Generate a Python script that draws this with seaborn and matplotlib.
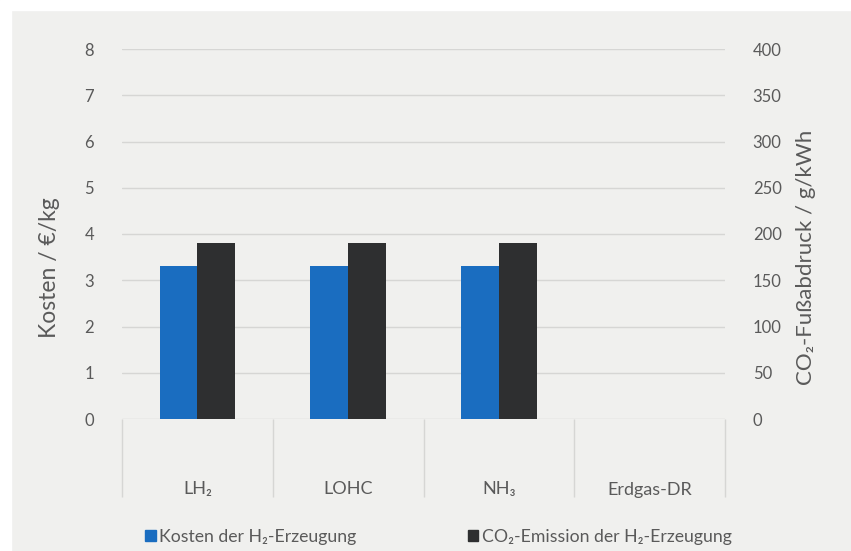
import numpy as np
import pandas as pd
import matplotlib
matplotlib.use("Agg")
import matplotlib.pyplot as plt
import seaborn as sns
from matplotlib.ticker import FixedLocator
from matplotlib.patches import Rectangle

categories = ["LH₂", "LOHC", "NH₃", "Erdgas-DR"]
kosten = [3.3, 3.3, 3.3, np.nan]          # €/kg
co2 = [190, 190, 190, np.nan]             # g/kWh
series = ["Kosten der H₂-Erzeugung", "CO₂-Emission der H₂-Erzeugung"]
left_ticks = [0, 1, 2, 3, 4, 5, 6, 7, 8]
right_ticks = [0, 50, 100, 150, 200, 250, 300, 350, 400]

sns.set_theme(style="white")
plt.rcParams["font.family"] = ["Lato", "DejaVu Sans"]

BG = "#f0f0ee"
TXT = "#5a5a5a"
GRID = "#d6d6d4"
colors = {series[0]: "#1a6dc0", series[1]: "#2e2f30"}

df_k = pd.DataFrame({"cat": categories, "value": kosten, "series": series[0]})
df_c = pd.DataFrame({"cat": categories, "value": co2, "series": series[1]})

W, H = 851, 551
fig = plt.figure(figsize=(8.51, 5.51), dpi=100, facecolor=BG)
# white margins at top and left of the picture
fig.add_artist(Rectangle((0, 1 - 10/H), 1, 10/H, transform=fig.transFigure,
                         color="white", zorder=-1))
fig.add_artist(Rectangle((0, 0), 11/W, 1, transform=fig.transFigure,
                         color="white", zorder=-1))

ax = fig.add_axes([122/W, 1-419/H, (725-122)/W, (419-49)/H])
ax.set_facecolor(BG)
ax2 = ax.twinx()

sns.barplot(data=df_k, x="cat", y="value", hue="series", order=categories,
            hue_order=series, palette=colors, width=0.5, dodge=True,
            saturation=1, ax=ax, errorbar=None, linewidth=0, legend=False)
sns.barplot(data=df_c, x="cat", y="value", hue="series", order=categories,
            hue_order=series, palette=colors, width=0.5, dodge=True,
            saturation=1, ax=ax2, errorbar=None, linewidth=0, legend=False)

ax.set_ylim(0, 8)
ax2.set_ylim(0, 400)
ax.set_xlim(-0.5, 3.5)
ax.set_yticks(left_ticks)
ax2.set_yticks(right_ticks)
ax.grid(axis="y", color=GRID, linewidth=1.0)
ax.set_axisbelow(True)
ax2.grid(False)

for a in (ax, ax2):
    for s in a.spines.values():
        s.set_visible(False)

ax.tick_params(axis="y", length=0, pad=20, labelsize=12, labelcolor=TXT)
ax2.tick_params(axis="y", length=0, pad=20, labelsize=12, labelcolor=TXT)

ax.set_xticks(range(len(categories)))
ax.set_xticklabels(categories)
ax.xaxis.set_minor_locator(FixedLocator([-0.5, 0.5, 1.5, 2.5, 3.5]))
ax.tick_params(axis="x", which="major", bottom=False, length=0, pad=45,
               labelsize=13, labelcolor=TXT)
ax.tick_params(axis="x", which="minor", bottom=True, length=56, width=1.0,
               color=GRID, direction="out")

ax.set_xlabel("")
ax.set_ylabel("Kosten / €/kg", fontsize=16.5, color=TXT)
ax2.set_ylabel("CO₂-Fußabdruck / g/kWh", fontsize=16, color=TXT)
ax.yaxis.set_label_coords((50 - 122) / 603, (419 - 268) / 370)
ax2.yaxis.set_label_coords((806 - 122) / 603, (419 - 257) / 370)
for lab in (ax.yaxis.label, ax2.yaxis.label):
    lab.set_horizontalalignment("center")
    lab.set_verticalalignment("center")

handles = [plt.Rectangle((0, 0), 1, 1, color=colors[s]) for s in series]
fig.legend(handles, series, loc="center", bbox_to_anchor=(438.5/W, 1-537/H),
           ncol=2, frameon=False, fontsize=12.7, labelcolor=TXT,
           handlelength=0.6, handleheight=0.6, handletextpad=0.2,
           columnspacing=6.3)

fig.savefig("out.png", dpi=100, facecolor=BG)
